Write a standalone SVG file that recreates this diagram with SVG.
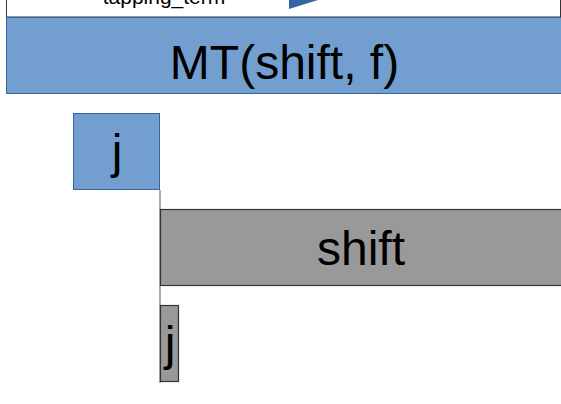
<svg xmlns="http://www.w3.org/2000/svg" width="561" height="404" viewBox="0 0 561 404">
<style>
.lbl{font-family:"Liberation Sans",Arial,sans-serif;fill:#000;text-anchor:middle}
.big{font-size:48px}
.blue{fill:#729fcf;stroke:#3465a4;stroke-width:1}
.grey{fill:#999999;stroke:#333333;stroke-width:1.2}
</style>
<rect width="561" height="404" fill="#ffffff"/>
<g id="tapping_term">
<rect x="6.5" y="-20" width="554" height="37" fill="#ffffff" stroke="#333333" stroke-width="1"/>
<text class="lbl" x="164" y="4" font-size="21">tapping_term</text>
<polygon points="289,-20 289,9 318,0 330,-5" fill="#3465a4"/>
</g>
<g id="connectors">
<line x1="160" y1="190" x2="160" y2="383" stroke="#555555" stroke-width="1"/>
</g>
<g id="mt">
<rect class="blue" x="6.5" y="17.5" width="556" height="76"/>
<text class="lbl big" x="284.5" y="79">MT(shift, f)</text>
</g>
<g id="j1">
<rect class="blue" x="73.5" y="113.5" width="86" height="76"/>
<text class="lbl big" x="117" y="168">j</text>
</g>
<g id="shift">
<rect class="grey" x="160.5" y="209.5" width="402" height="76"/>
<text class="lbl big" x="361" y="265">shift</text>
</g>
<g id="j2">
<rect class="grey" x="160.5" y="305.5" width="18" height="76"/>
<text class="lbl big" x="170" y="360">j</text>
</g>
</svg>
